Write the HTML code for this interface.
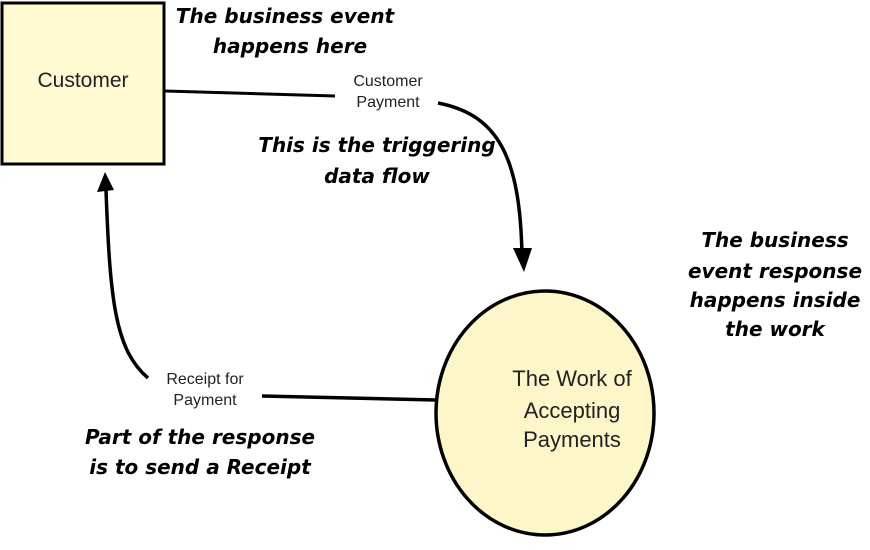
<!DOCTYPE html>
<html><head><style>
body{margin:0;background:#fff;}
svg{display:block;}
.b{font-family:"DejaVu Sans","Liberation Sans",sans-serif;font-weight:bold;font-style:italic;font-size:20px;fill:#000;}
.l{font-family:"Liberation Sans",sans-serif;fill:#222;}
</style></head><body>
<svg width="870" height="550" viewBox="0 0 870 550" xmlns="http://www.w3.org/2000/svg">
<rect x="2" y="3" width="162" height="161" fill="#fffad2" stroke="#000" stroke-width="3"/>
<text class="l" x="83" y="87" font-size="21" text-anchor="middle">Customer</text>
<ellipse cx="545" cy="413" rx="109" ry="122" fill="#fcf6c8" stroke="#000" stroke-width="3.5"/>
<text class="l" x="572" y="386" font-size="22" text-anchor="middle">The Work of</text>
<text class="l" x="572" y="418" font-size="22" text-anchor="middle">Accepting</text>
<text class="l" x="572" y="447" font-size="22" text-anchor="middle">Payments</text>
<path d="M165 91 L335 96" stroke="#000" stroke-width="3" fill="none"/>
<path d="M438 103 C500 115 520 160 522 255" stroke="#000" stroke-width="3.5" fill="none"/>
<path d="M513 248 L524 272 L532 248 Z" fill="#000"/>
<path d="M262 396 L436 400" stroke="#000" stroke-width="3.5" fill="none"/>
<path d="M148 378 C115 350 110 300 106 190" stroke="#000" stroke-width="3.5" fill="none"/>
<path d="M97 192 L105 172 L114 190 Z" fill="#000"/>
<text class="l" x="388" y="86" font-size="16" text-anchor="middle">Customer</text>
<text class="l" x="388" y="107" font-size="16" text-anchor="middle">Payment</text>
<text class="l" x="205" y="384" font-size="16" text-anchor="middle">Receipt for</text>
<text class="l" x="205" y="405" font-size="16" text-anchor="middle">Payment</text>
<text class="b" x="285" y="23" text-anchor="middle">The business event</text>
<text class="b" x="290" y="53" text-anchor="middle">happens here</text>
<text class="b" x="377" y="152" text-anchor="middle">This is the triggering</text>
<text class="b" x="377" y="183" text-anchor="middle">data flow</text>
<text class="b" x="775" y="247" text-anchor="middle">The business</text>
<text class="b" x="775" y="278" text-anchor="middle">event response</text>
<text class="b" x="775" y="307" text-anchor="middle">happens inside</text>
<text class="b" x="775" y="336" text-anchor="middle">the work</text>
<text class="b" x="200" y="444" text-anchor="middle">Part of the response</text>
<text class="b" x="200" y="474" text-anchor="middle">is to send a Receipt</text>
</svg>
</body></html>
